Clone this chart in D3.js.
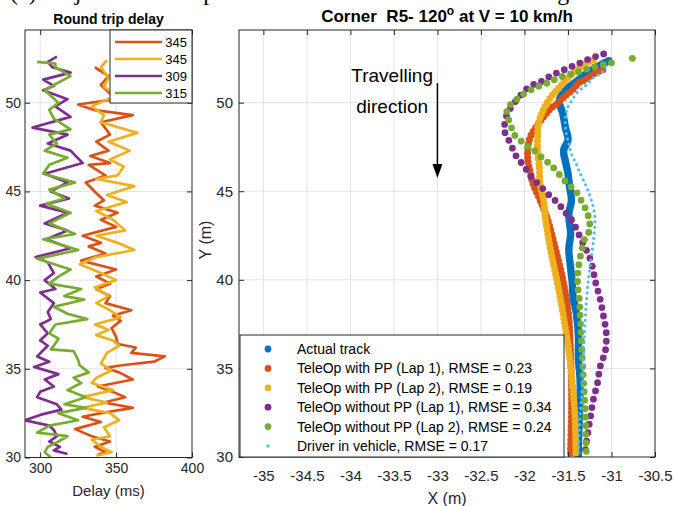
<!DOCTYPE html>
<html><head><meta charset="utf-8">
<script src="https://cdn.jsdelivr.net/npm/d3@7"></script>
<style>
body{margin:0;background:#fff}
svg{display:block}
text{font-family:"Liberation Sans",Arial,Helvetica,sans-serif}
</style>
</head><body>
<svg id="c" width="674" height="506"></svg>
<script>
// ---------- Left panel: round trip delay (ms) vs Y (m) ----------
const delayLegend = ["345", "345", "309", "315"];
const delayColors = ["#D95319", "#EDB120", "#7E2F8E", "#77AC30"];
const delayXTicks = [300, 350, 400];
const yTicks = [30, 35, 40, 45, 50];

// [Y, delay]
const delayRed = [[52.0,336],[51.5,345],[51.0,340],[50.2,350],[49.9,325],[49.6,335],[49.3,361],[48.9,340],[48.2,346],[47.8,337],[47.3,345],[47.0,333],[46.6,346],[46.5,332],[45.9,343],[45.5,330],[44.9,337],[44.5,342],[44.2,336],[43.8,351],[43.4,340],[43.0,350],[42.5,328],[42.1,340],[41.9,332],[41.5,343],[41.1,327],[40.6,350],[40.2,337],[39.8,346],[39.5,337],[39.1,346],[38.7,343],[38.3,360],[38.0,348],[37.7,353],[37.3,347],[36.8,350],[36.4,351],[36.2,363],[35.9,360],[35.7,382],[35.4,375],[35.2,354],[35.05,343],[34.8,352],[34.4,361],[34.0,338],[33.7,348],[33.4,356],[33.1,342],[32.8,361],[32.5,340],[32.3,328],[32.0,340],[31.6,323],[31.2,334],[30.9,346],[30.6,336],[30.3,343],[30.15,338]];
const delayYellow = [[52.4,344],[52.0,340],[51.4,345],[50.9,342],[50.4,350],[49.8,334],[49.3,342],[48.9,340],[48.3,364],[47.8,345],[47.3,359],[46.8,346],[46.4,355],[45.9,351],[45.7,337],[45.3,362],[44.8,344],[44.4,357],[43.9,337],[43.4,348],[42.8,356],[42.5,337],[42.1,351],[41.7,362],[41.3,337],[40.9,326],[40.4,340],[40.0,350],[39.6,336],[39.1,345],[38.7,337],[38.3,346],[37.9,353],[37.5,336],[37.2,345],[36.9,337],[36.6,348],[36.3,352],[35.9,344],[35.3,340],[34.9,347],[34.5,337],[34.2,334],[33.8,348],[33.4,328],[33.1,344],[32.8,328],[32.5,346],[32.1,352],[31.7,342],[31.2,346],[31.0,334],[30.6,340],[30.3,347],[30.1,337]];
const delayPurple = [[52.6,311],[52.3,305],[52.0,308],[51.7,320],[51.3,302],[50.95,309],[50.7,302],[50.2,318],[49.8,310],[49.2,320],[48.6,295],[48.2,318],[47.7,305],[47.3,320],[46.6,328],[46.0,303],[45.5,318],[45.0,307],[44.6,319],[44.2,300],[43.8,318],[43.2,303],[42.8,318],[42.3,304],[41.8,320],[41.3,297],[41.0,305],[40.4,309],[40.0,303],[39.5,310],[39.3,300],[38.7,309],[38.2,305],[37.8,307],[37.5,300],[37.0,305],[36.6,300],[36.3,305],[35.7,298],[35.4,306],[35.1,296],[34.7,312],[34.4,303],[34.0,309],[33.7,300],[33.4,298],[33.0,311],[32.7,314],[32.4,300],[32.1,290],[31.8,306],[31.55,309],[31.2,311],[30.9,306],[30.6,313],[30.4,309],[30.2,318]];
const delayGreen = [[52.3,298],[52.2,310],[52.0,310],[51.5,320],[51.0,309],[50.7,303],[50.0,312],[49.6,306],[49.1,309],[48.5,320],[48.2,306],[47.7,311],[47.3,303],[46.9,318],[46.5,306],[46.0,302],[45.5,323],[45.1,306],[44.6,316],[44.3,304],[43.8,320],[43.2,306],[42.6,323],[42.3,302],[41.7,325],[41.2,298],[40.6,320],[40.2,312],[39.8,306],[39.5,327],[39.1,316],[38.9,329],[38.5,309],[38.1,318],[37.8,331],[37.5,310],[37.0,306],[36.7,312],[36.3,309],[36.1,307],[36.0,322],[35.5,325],[35.2,326],[34.8,332],[34.5,322],[34.2,327],[33.8,318],[33.4,330],[33.0,316],[32.8,330],[32.5,312],[32.1,325],[31.8,306],[31.4,298],[31.2,318],[30.9,312],[30.6,305],[30.3,303],[30.0,307]];

// ---------- Right panel: trajectories [X, Y] ----------
const trajXTicks = [-35, -34.5, -34, -33.5, -33, -32.5, -32, -31.5, -31, -30.5];
const trajLegend = ["Actual track", "TeleOp with PP (Lap 1), RMSE = 0.23", "TeleOp with PP (Lap 2), RMSE = 0.19", "TeleOp without PP (Lap 1), RMSE = 0.34", "TeleOp without PP (Lap 2), RMSE = 0.24", "Driver in vehicle, RMSE = 0.17"];
const trajColors = ["#0072BD", "#D95319", "#EDB120", "#7E2F8E", "#77AC30", "#4DBEEE"];

const trackActual = [[-31.03,52.37],[-31.24,51.8],[-31.39,51.24],[-31.53,50.68],[-31.60,50.1],[-31.56,49.4],[-31.53,48.6],[-31.50,47.9],[-31.55,47.3],[-31.53,46.7],[-31.50,46.0],[-31.48,45.2],[-31.46,44.5],[-31.49,43.7],[-31.47,42.6],[-31.49,41.7],[-31.47,40.7],[-31.45,39.8],[-31.44,39.0],[-31.41,38.3],[-31.39,37.5],[-31.38,36.8],[-31.38,35.6],[-31.36,34.2],[-31.37,32.3],[-31.38,30.4],[-31.38,30.0]];
const teleopPP1 = [[-31.10,51.86],[-31.21,51.6],[-31.30,51.3],[-31.38,51.1],[-31.45,50.7],[-31.53,50.4],[-31.61,50.0],[-31.70,49.66],[-31.78,49.2],[-31.87,48.6],[-31.93,48.1],[-31.96,47.5],[-31.96,46.7],[-31.93,46.0],[-31.90,45.4],[-31.82,44.5],[-31.74,43.5],[-31.64,41.7],[-31.55,39.8],[-31.49,37.9],[-31.47,36.0],[-31.46,34.2],[-31.46,32.3],[-31.47,30.4],[-31.47,30.0]];
const teleopPP2 = [[-31.21,52.4],[-31.30,52.2],[-31.38,51.9],[-31.50,51.4],[-31.61,50.8],[-31.70,50.3],[-31.76,49.8],[-31.80,49.4],[-31.84,48.8],[-31.85,48.0],[-31.85,47.3],[-31.83,46.4],[-31.82,45.4],[-31.78,44.5],[-31.76,43.5],[-31.70,41.7],[-31.62,39.8],[-31.55,37.9],[-31.49,36.0],[-31.45,34.2],[-31.42,32.3],[-31.41,30.4],[-31.41,30.0]];
const teleopNoPP1 = [[-31.09,52.75],[-31.24,52.5],[-31.38,52.2],[-31.49,51.97],[-31.62,51.7],[-31.74,51.4],[-31.84,51.1],[-31.93,50.96],[-32.01,50.6],[-32.08,50.2],[-32.16,49.7],[-32.21,49.2],[-32.23,48.6],[-32.22,48.25],[-32.16,47.7],[-32.11,47.1],[-32.05,46.7],[-31.99,46.3],[-31.92,45.8],[-31.82,45.3],[-31.72,44.8],[-31.61,44.3],[-31.53,43.8],[-31.46,43.4],[-31.36,42.4],[-31.24,41.1],[-31.18,39.8],[-31.13,38.9],[-31.09,37.9],[-31.06,37.0],[-31.07,36.0],[-31.13,35.1],[-31.16,34.2],[-31.21,33.2],[-31.24,32.3],[-31.27,31.4],[-31.30,30.4],[-31.31,30.0]];
const teleopNoPP2 = [[-31.00,52.25],[-31.21,52.0],[-31.41,51.7],[-31.61,51.4],[-31.74,51.1],[-31.85,50.9],[-31.97,50.6],[-32.06,50.3],[-32.13,50.0],[-32.20,49.7],[-32.20,49.4],[-32.18,49.0],[-32.15,48.6],[-32.13,48.25],[-32.07,48.0],[-31.99,47.6],[-31.91,47.4],[-31.79,46.85],[-31.70,46.5],[-31.60,45.95],[-31.50,45.4],[-31.41,45.0],[-31.35,44.5],[-31.28,43.8],[-31.25,43.2],[-31.26,42.7],[-31.30,42.4],[-31.34,41.7],[-31.38,40.7],[-31.39,39.8],[-31.37,38.9],[-31.36,37.9],[-31.34,36.0],[-31.32,34.2],[-31.30,32.3],[-31.29,30.4],[-31.29,30.0]];
const teleopNoPP2Stray = [[-30.76,52.5]];
const driverVehicle = [[-31.07,52.0],[-31.11,51.7],[-31.21,51.4],[-31.30,50.95],[-31.39,50.6],[-31.47,50.0],[-31.51,49.66],[-31.53,49.0],[-31.52,48.25],[-31.49,47.7],[-31.46,47.1],[-31.41,46.6],[-31.36,46.0],[-31.30,45.4],[-31.26,44.9],[-31.22,44.3],[-31.19,43.5],[-31.20,42.6],[-31.22,41.7],[-31.27,39.8],[-31.30,37.9],[-31.32,36.0],[-31.33,34.2],[-31.36,32.3],[-31.38,30.4],[-31.38,30.0]];

const FONT = '"Liberation Sans",Arial,Helvetica,sans-serif';
const svg = d3.select('#c');
const AX = '#262626', GRID = '#e3e3e3';

// top caption (clipped by the page edge, as in the source figure)
svg.append('text').attr('x', 10).attr('y', 0)
  .style('font-family', '"Liberation Serif","Times New Roman",serif').style('font-size', '24px').attr('fill', '#000')
  .text('(c) Trajectories comparison at the second corner including');

function frame(g, x, y, xt, yt) {
  const [X0, X1] = x.range(), [Y1, Y0] = y.range();
  g.append('g').selectAll('line').data(xt.filter(v => x(v) > X0 + 1 && x(v) < X1 - 1)).join('line')
    .attr('x1', d => x(d)).attr('x2', d => x(d)).attr('y1', Y0).attr('y2', Y1).attr('stroke', GRID).attr('stroke-width', 1);
  g.append('g').selectAll('line').data(yt.filter(v => y(v) > Y0 + 1 && y(v) < Y1 - 1)).join('line')
    .attr('y1', d => y(d)).attr('y2', d => y(d)).attr('x1', X0).attr('x2', X1).attr('stroke', GRID).attr('stroke-width', 1);
}
function axes(g, x, y, xt, yt, xPad, yPad, xFs, yFs) {
  const [X0, X1] = x.range(), [Y1, Y0] = y.range();
  const fmt = d => String(d);
  const ab = g.append('g').attr('transform', `translate(0,${Y1})`)
    .call(d3.axisBottom(x).tickValues(xt).tickSize(-5).tickPadding(xPad).tickFormat(fmt));
  const at = g.append('g').attr('transform', `translate(0,${Y0})`)
    .call(d3.axisTop(x).tickValues(xt).tickSize(-5).tickFormat(''));
  const al = g.append('g').attr('transform', `translate(${X0},0)`)
    .call(d3.axisLeft(y).tickValues(yt).tickSize(-5).tickPadding(yPad).tickFormat(fmt));
  const ar = g.append('g').attr('transform', `translate(${X1},0)`)
    .call(d3.axisRight(y).tickValues(yt).tickSize(-5).tickFormat(''));
  [ab, at, al, ar].forEach(a => { a.select('.domain').remove(); a.selectAll('line').attr('stroke', AX).attr('stroke-width', 1); });
  ab.selectAll('text').attr('fill', AX).style('font-family', FONT).style('font-size', xFs + 'px');
  al.selectAll('text').attr('fill', AX).style('font-family', FONT).style('font-size', yFs + 'px');
  g.append('rect').attr('x', X0).attr('y', Y0).attr('width', X1 - X0).attr('height', Y1 - Y0)
    .attr('fill', 'none').attr('stroke', AX).attr('stroke-width', 1);
}

// ===== Left panel =====
const xL = d3.scaleLinear().domain([290, 400]).range([25, 192]);
const yL = d3.scaleLinear().domain([30, 54.1]).range([457.5, 30]);
const gL = svg.append('g');
frame(gL, xL, yL, delayXTicks, yTicks);
svg.append('clipPath').attr('id', 'clipL').append('rect').attr('x', 25).attr('y', 30).attr('width', 167).attr('height', 427.5);
const lineL = d3.line().x(d => xL(d[1])).y(d => yL(d[0]));
const gLs = gL.append('g').attr('clip-path', 'url(#clipL)');
[delayRed, delayYellow, delayPurple, delayGreen].forEach((s, i) => {
  gLs.append('path').datum(s).attr('d', lineL).attr('fill', 'none')
    .attr('stroke', delayColors[i]).attr('stroke-width', 2.7).attr('stroke-linejoin', 'round');
});
axes(gL, xL, yL, delayXTicks, yTicks, 6, 4, 14, 14);
const lgL = gL.append('g');
lgL.append('rect').attr('x', 110).attr('y', 30).attr('width', 82).attr('height', 73).attr('fill', '#fff').attr('stroke', AX).attr('stroke-width', 1);
delayLegend.forEach((t, i) => {
  const yy = 42 + i * 17;
  lgL.append('line').attr('x1', 115).attr('x2', 162).attr('y1', yy).attr('y2', yy).attr('stroke', delayColors[i]).attr('stroke-width', 2.7);
  lgL.append('text').attr('x', 187).attr('y', yy + 4.7).attr('text-anchor', 'end').style('font-size', '13px').attr('fill', '#000').text(t);
});
gL.append('text').attr('x', 108.5).attr('y', 24).attr('text-anchor', 'middle').style('font-size', '14px').style('font-weight', 'bold').text('Round trip delay');
gL.append('text').attr('x', 108.5).attr('y', 496).attr('text-anchor', 'middle').style('font-size', '15px').attr('fill', AX).text('Delay (ms)');

// ===== Right panel =====
const xR = d3.scaleLinear().domain([-35.28, -30.5]).range([239, 655]);
const yR = d3.scaleLinear().domain([30, 54.1]).range([457, 30]);
const gR = svg.append('g');
frame(gR, xR, yR, trajXTicks, yTicks);
svg.append('clipPath').attr('id', 'clipR').append('rect').attr('x', 239).attr('y', 30).attr('width', 416).attr('height', 427);
const lineR = d3.line().x(d => xR(d[0])).y(d => yR(d[1])).curve(d3.curveCatmullRom);
const gRs = gR.append('g').attr('clip-path', 'url(#clipR)');
const trajSeries = [trackActual, teleopPP1, teleopPP2, teleopNoPP1, teleopNoPP2, driverVehicle];
const dotSize = [7.5, 7, 7, 6.8, 6.8, 3.2];
const dotGap = [2.2, 4.5, 4.5, 8.5, 8.5, 5.5];
trajSeries.forEach((s, i) => {
  gRs.append('path').datum(s).attr('d', lineR).attr('fill', 'none')
    .attr('stroke', trajColors[i]).attr('stroke-width', dotSize[i]).attr('stroke-linecap', 'round')
    .attr('stroke-dasharray', `0 ${dotGap[i]}`);
});
gRs.selectAll('circle.stray').data(teleopNoPP2Stray).join('circle').attr('class', 'stray')
  .attr('cx', d => xR(d[0])).attr('cy', d => yR(d[1])).attr('r', 3.4).attr('fill', trajColors[4]);
axes(gR, xR, yR, trajXTicks, yTicks, 13, 6, 15, 15);

// annotation
gR.append('text').attr('x', xR(-33.52)).attr('y', yR(51.15)).attr('text-anchor', 'middle').style('font-size', '19px').attr('fill', '#000').text('Travelling');
gR.append('text').attr('x', xR(-33.52)).attr('y', yR(49.4)).attr('text-anchor', 'middle').style('font-size', '19px').attr('fill', '#000').text('direction');
const arrowX = -33, arrowY0 = 51.1, arrowY1 = 45.75;
gR.append('line').attr('x1', xR(arrowX)).attr('x2', xR(arrowX)).attr('y1', yR(arrowY0)).attr('y2', yR(arrowY1) - 12)
  .attr('stroke', '#000').attr('stroke-width', 1.5);
gR.append('path').attr('d', `M${xR(arrowX) - 5},${yR(arrowY1) - 14} L${xR(arrowX) + 5},${yR(arrowY1) - 14} L${xR(arrowX)},${yR(arrowY1)} Z`).attr('fill', '#000');

// legend right
const lgR = gR.append('g');
lgR.append('rect').attr('x', 240).attr('y', 335).attr('width', 324).attr('height', 122).attr('fill', '#fff').attr('stroke', AX).attr('stroke-width', 1);
trajLegend.forEach((t, i) => {
  const yy = 349 + i * 19.4;
  lgR.append('circle').attr('cx', 268).attr('cy', yy).attr('r', i === 5 ? 1.7 : 3.4).attr('fill', trajColors[i]);
  lgR.append('text').attr('x', 297).attr('y', yy + 5).style('font-size', '14px').attr('fill', '#000').text(t);
});

// titles & labels
const tt = gR.append('text').attr('x', 447).attr('y', 22).attr('text-anchor', 'middle').style('font-size', '17px').style('font-weight', 'bold').attr('fill', '#000');
tt.append('tspan').text('Corner\u00a0\u00a0R5- 120');
tt.append('tspan').attr('dy', -7).style('font-size', '12px').text('o');
tt.append('tspan').attr('dy', 7).text(' at V = 10 km/h');
gR.append('text').attr('x', 447).attr('y', 504).attr('text-anchor', 'middle').style('font-size', '16px').attr('fill', AX).text('X (m)');
gR.append('text').attr('transform', 'translate(211,240) rotate(-90)').attr('text-anchor', 'middle').style('font-size', '16px').attr('fill', AX).text('Y (m)');
</script>
</body></html>
